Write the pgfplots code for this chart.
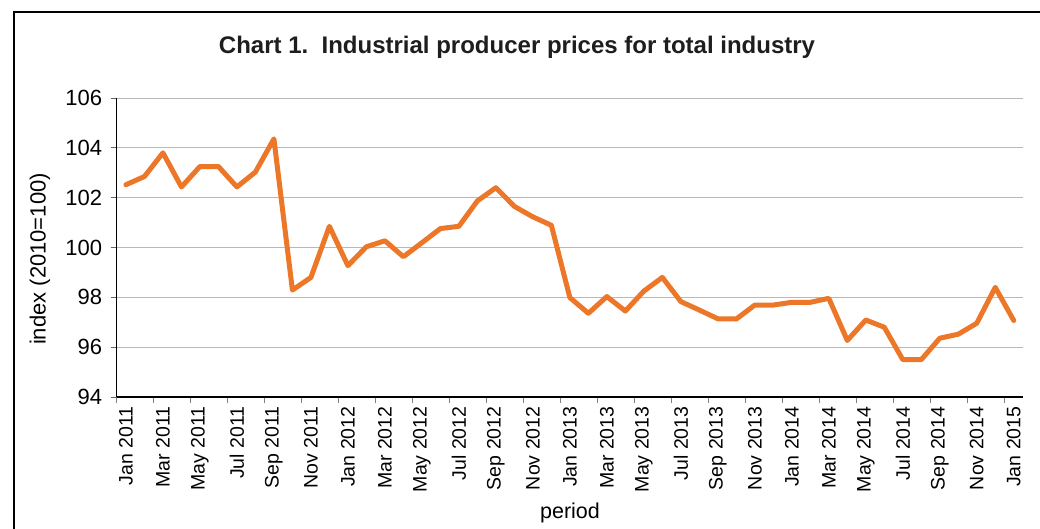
\documentclass[border=0pt]{standalone}
\usepackage{pgfplots}
\pgfplotsset{compat=1.18}
\usepackage{fontspec}
\setmainfont{Liberation Sans}
\definecolor{lineorange}{RGB}{237,119,40}
\definecolor{gridgray}{RGB}{185,185,185}
\definecolor{titlegray}{RGB}{30,30,30}

\pgfplotstableread{
x y
0 102.52
1 102.85
2 103.80
3 102.43
4 103.25
5 103.25
6 102.43
7 103.03
8 104.36
9 98.29
10 98.80
11 100.85
12 99.27
13 100.03
14 100.27
15 99.63
16 100.19
17 100.76
18 100.85
19 101.87
20 102.40
21 101.65
22 101.23
23 100.89
24 97.99
25 97.36
26 98.03
27 97.45
28 98.25
29 98.80
30 97.83
31 97.49
32 97.14
33 97.13
34 97.69
35 97.69
36 97.80
37 97.80
38 97.96
39 96.27
40 97.09
41 96.80
42 95.50
43 95.50
44 96.36
45 96.52
46 96.96
47 98.40
48 97.07
}\ppidata

\begin{document}
\begin{tikzpicture}[x=1pt,y=1pt]
\path[use as bounding box] (0,0) rectangle (1040,528);
\draw[line width=2.5pt] (14,-20) -- (14,516) -- (1080,516);
\node[font=\fontsize{24}{28}\selectfont\bfseries, text=titlegray] at (517,481) {Chart 1.\ \ Industrial producer prices for total industry};
\node[rotate=90, font=\fontsize{22}{26}\selectfont] at (40,269) {index (2010=100)};
\node[font=\fontsize{21.5}{25}\selectfont] at (570,15) {period};
\begin{axis}[
  at={(116.7pt,131pt)}, anchor=south west,
  scale only axis, width=906.3pt, height=299pt,
  xmin=-0.5, xmax=48.5, ymin=94, ymax=106,
  axis x line*=bottom, axis y line*=left,
  axis line style={black, line width=1.1pt},
  ytick={94,96,...,106},
  xtick={0,2,...,48},
  xticklabels={Jan 2011,Mar 2011,May 2011,Jul 2011,Sep 2011,Nov 2011,Jan 2012,Mar 2012,May 2012,Jul 2012,Sep 2012,Nov 2012,Jan 2013,Mar 2013,May 2013,Jul 2013,Sep 2013,Nov 2013,Jan 2014,Mar 2014,May 2014,Jul 2014,Sep 2014,Nov 2014,Jan 2015},
  minor xtick={-0.5,1.5,...,47.5},
  tick align=outside,
  major tick length=6pt, minor tick length=6pt,
  major x tick style={draw=none},
  minor x tick style={draw=gray, line width=0.8pt},
  major y tick style={draw=gray!80!black, line width=0.8pt},
  xticklabel style={rotate=90, anchor=east, font=\fontsize{19.5}{22}\selectfont},
  yticklabel style={font=\fontsize{22}{26}\selectfont, xshift=-5pt},
  /pgf/number format/assume math mode=true,
  ymajorgrids,
  grid style={gridgray, line width=1pt},
  clip=false,
]
\addplot[lineorange, line width=5pt, line join=round, line cap=round, mark=none] table[x=x,y=y] {\ppidata};
\end{axis}
\end{tikzpicture}
\end{document}
